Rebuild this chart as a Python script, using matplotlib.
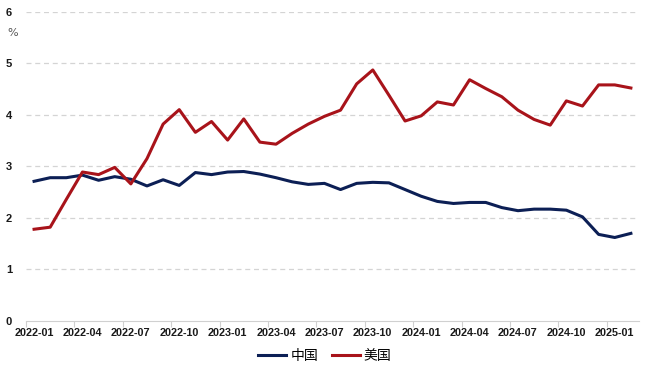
import matplotlib.pyplot as plt
from matplotlib.ticker import FixedLocator

# monthly data, 2022-01 .. 2025-02
months = [f"{y}-{m:02d}" for y in (2022, 2023, 2024) for m in range(1, 13)] + ["2025-01", "2025-02"]

china = [2.71, 2.78, 2.78, 2.83, 2.73, 2.80, 2.75, 2.62, 2.74, 2.63,
         2.88, 2.84, 2.89, 2.90, 2.85, 2.78, 2.70, 2.65, 2.67, 2.55,
         2.67, 2.69, 2.68, 2.55, 2.42, 2.32, 2.28, 2.30, 2.30, 2.20,
         2.14, 2.17, 2.17, 2.15, 2.02, 1.68, 1.62, 1.70]

usa = [1.78, 1.82, 2.36, 2.89, 2.84, 2.98, 2.66, 3.15, 3.82, 4.10,
       3.66, 3.87, 3.51, 3.92, 3.47, 3.43, 3.64, 3.82, 3.97, 4.09,
       4.60, 4.87, 4.38, 3.88, 3.98, 4.25, 4.19, 4.68, 4.51, 4.35,
       4.09, 3.91, 3.80, 4.27, 4.17, 4.58, 4.58, 4.52]

plt.rcParams['font.family'] = ['Liberation Sans', 'DejaVu Sans']

fig = plt.figure(figsize=(6.5, 3.74), dpi=100)
ax = fig.add_axes([0.04, 0.1417, 0.943, 0.827])

x = list(range(len(months)))
ax.plot(x, china, color='#0c1f55', lw=2.2, label='中国')
ax.plot(x, usa, color='#a8131a', lw=2.2, label='美国')

ax.set_xlim(-0.5, len(months) - 0.5)
ax.set_ylim(0, 6)

# category style axis: tick marks on boundaries, labels on centres
ax.xaxis.set_major_locator(FixedLocator([i - 0.5 for i in range(0, len(months) + 1, 3)]))
ax.xaxis.set_minor_locator(FixedLocator(list(range(0, len(months), 3))))
ax.set_xticklabels([], minor=False)
ax.set_xticklabels([months[i] for i in range(0, len(months), 3)], minor=True,
                   fontsize=7.8, fontweight='bold', color='#1a1a1a')
ax.tick_params(axis='x', which='major', length=4, color='#d0d0d0', width=0.8)
ax.tick_params(axis='x', which='minor', length=0, pad=5)

ax.set_yticks(range(0, 7))
ax.set_yticklabels([str(v) for v in range(0, 7)], fontsize=8, fontweight='bold', color='#1a1a1a')
ax.tick_params(axis='y', length=0, pad=10)

for v in range(1, 7):
    ax.axhline(v, color='#d4d4d4', lw=0.9, ls=(0, (4, 3)), zorder=0)

for s in ['top', 'right', 'left']:
    ax.spines[s].set_visible(False)
ax.spines['bottom'].set_color('#d0d0d0')
ax.spines['bottom'].set_linewidth(0.8)

fig.text(13 / 650, 1 - 33 / 374, '%', fontsize=8, color='#555555', ha='center', va='center',
         family=['DejaVu Sans'])

leg = fig.legend(loc='center', bbox_to_anchor=(0.5, 1 - 356 / 374), ncol=2, frameon=False,
                 prop={'family': ['Noto Sans CJK SC', 'DejaVu Sans'], 'size': 10},
                 handlelength=2.0, handletextpad=0.3, columnspacing=1.0)

fig.savefig('out.png', dpi=100)
